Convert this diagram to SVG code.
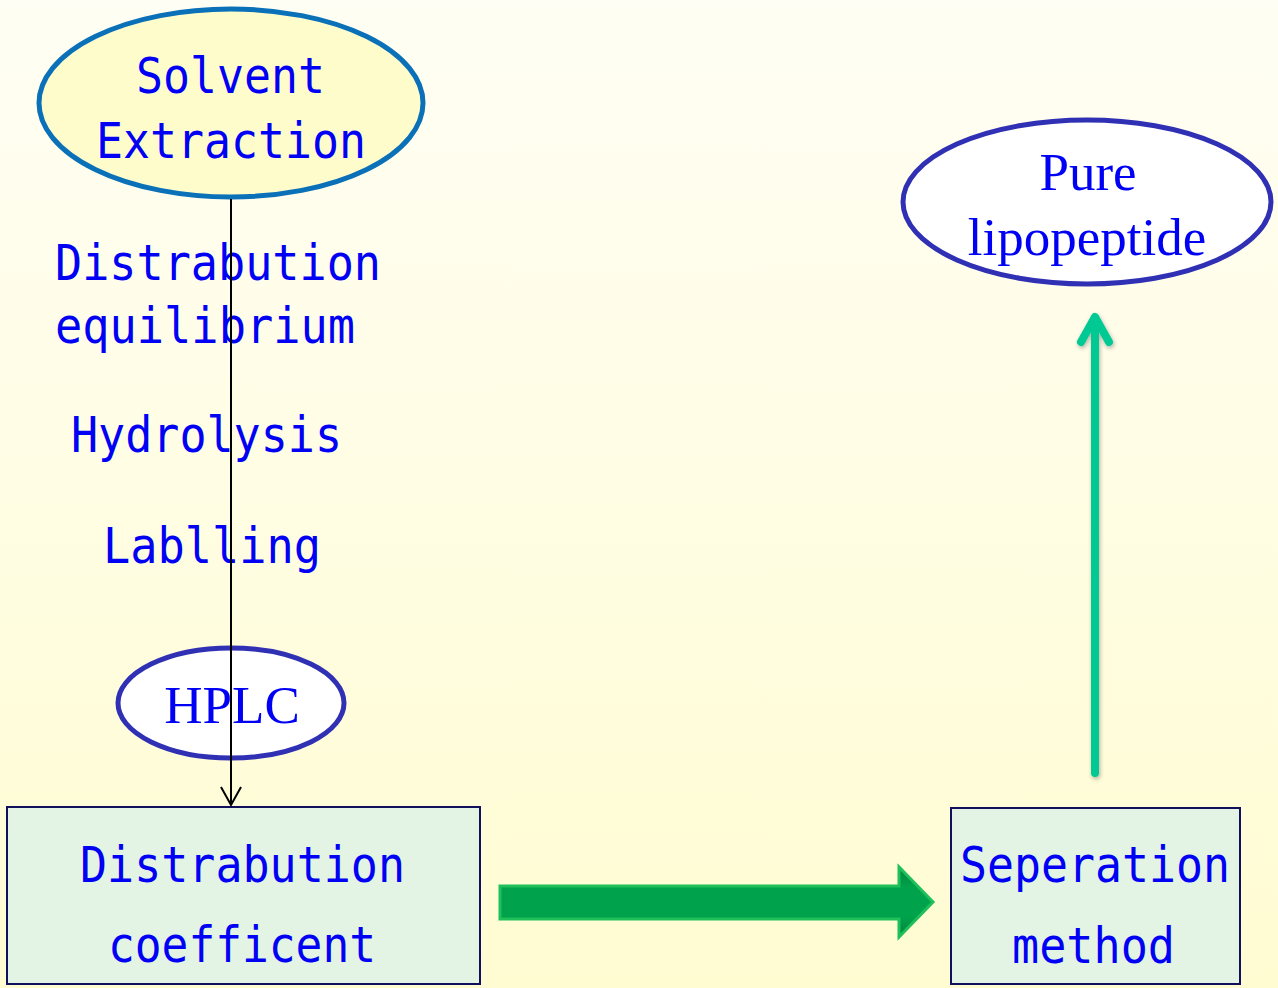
<svg xmlns="http://www.w3.org/2000/svg" width="1278" height="988" viewBox="0 0 1278 988">
  <defs>
    <linearGradient id="bg" x1="0" y1="0" x2="0" y2="1">
      <stop offset="0" stop-color="#fffef4"/>
      <stop offset="1" stop-color="#fffcd2"/>
    </linearGradient>
    <linearGradient id="shaft" x1="0" y1="0" x2="0" y2="1">
      <stop offset="0" stop-color="#00843c"/>
      <stop offset="0.3" stop-color="#00a34c"/>
      <stop offset="0.7" stop-color="#00a34c"/>
      <stop offset="1" stop-color="#00843c"/>
    </linearGradient>
    <marker id="vhead" markerWidth="24" markerHeight="24" refX="11" refY="20" orient="0" markerUnits="userSpaceOnUse">
      <path d="M1,2 L11,20 L21,2" fill="none" stroke="#000" stroke-width="2"/>
    </marker>
    <filter id="sh" x="-50%" y="-5%" width="200%" height="110%">
      <feDropShadow dx="1" dy="2" stdDeviation="2" flood-color="#000" flood-opacity="0.3"/>
    </filter>
  </defs>
  <style>
    .mono { font-family: "DejaVu Sans Mono", "Liberation Mono", monospace; font-size: 50px; fill: #0000f4; }
    .serif { font-family: "Liberation Serif", "Times New Roman", serif; font-size: 53px; fill: #0000f4; text-anchor: middle; }
    .ell { stroke: #3030b4; stroke-width: 5; fill: #ffffff; }
    .box { fill: #e4f4e4; stroke: #10105c; stroke-width: 2; }
  </style>
  <rect x="0" y="0" width="1278" height="988" fill="url(#bg)"/>

  <g id="node-solvent">
    <ellipse cx="231" cy="103" rx="192" ry="94" fill="#fffccc" stroke="#0a70b8" stroke-width="5"/>
    <text class="mono" x="136" y="93" textLength="189" lengthAdjust="spacingAndGlyphs">Solvent</text>
    <text class="mono" x="96" y="158" textLength="270" lengthAdjust="spacingAndGlyphs">Extraction</text>
  </g>

  <g id="labels">
    <text class="mono" x="55" y="280" textLength="326" lengthAdjust="spacingAndGlyphs">Distrabution</text>
    <text class="mono" x="55" y="343" textLength="300" lengthAdjust="spacingAndGlyphs">equilibrium</text>
    <text class="mono" x="71" y="452" textLength="271" lengthAdjust="spacingAndGlyphs">Hydrolysis</text>
    <text class="mono" x="103" y="563" textLength="218" lengthAdjust="spacingAndGlyphs">Lablling</text>
  </g>

  <g id="node-hplc">
    <ellipse class="ell" cx="231" cy="703" rx="113" ry="55"/>
    <text class="serif" x="232" y="723">HPLC</text>
  </g>

  <g id="node-pure">
    <ellipse class="ell" cx="1087" cy="202" rx="184" ry="82"/>
    <text class="serif" x="1088" y="190">Pure</text>
    <text class="serif" x="1087" y="255">lipopeptide</text>
  </g>

  <g id="node-coefficient">
    <rect class="box" x="7" y="807" width="473" height="177"/>
    <text class="mono" x="80" y="882" textLength="325" lengthAdjust="spacingAndGlyphs">Distrabution</text>
    <text class="mono" x="108" y="962" textLength="268" lengthAdjust="spacingAndGlyphs">coefficent</text>
  </g>

  <g id="node-separation">
    <rect class="box" x="951" y="808" width="289" height="176"/>
    <text class="mono" x="960" y="882" textLength="270" lengthAdjust="spacingAndGlyphs">Seperation</text>
    <text class="mono" x="1012" y="963" textLength="163" lengthAdjust="spacingAndGlyphs">method</text>
  </g>

  <g id="connectors">
    <line x1="231" y1="199" x2="231" y2="805" stroke="#000" stroke-width="2" marker-end="url(#vhead)"/>
    <path d="M500,886 L899,886 L899,867 L933,902 L899,937 L899,919 L500,919 Z" fill="url(#shaft)" stroke="#1fbf5a" stroke-width="3" stroke-linejoin="miter"/>
    <g filter="url(#sh)" stroke="#00c993" stroke-width="8" stroke-linecap="round" stroke-linejoin="round" fill="none">
      <line x1="1095" y1="773" x2="1095" y2="318"/>
      <path d="M1081,342 L1095,317 L1109,342"/>
    </g>
  </g>
</svg>
